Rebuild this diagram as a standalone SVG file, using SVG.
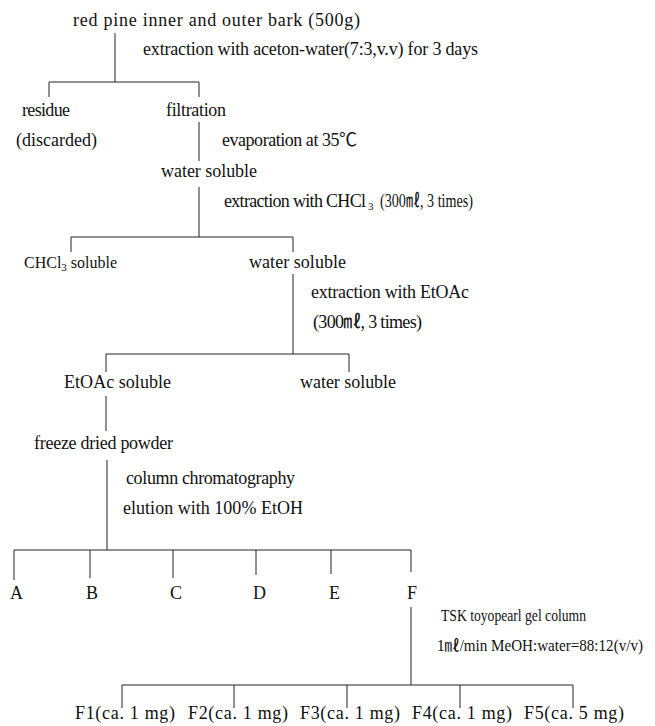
<svg xmlns="http://www.w3.org/2000/svg" width="655" height="726" viewBox="0 0 655 726">
<style>
text{font-family:"Liberation Serif","Noto Sans CJK KR",serif;font-size:18px;fill:#111}
.sub{font-size:11px}
.cond{font-size:16px}
.sm{font-size:16px}
#connectors line{stroke:#222;stroke-width:1;fill:none}
</style>
<rect width="655" height="726" fill="#fff"/>
<g id="connectors">
<line x1="115" y1="33" x2="115" y2="82"/>
<line x1="49" y1="82" x2="199" y2="82"/>
<line x1="49" y1="82" x2="49" y2="97"/>
<line x1="199" y1="82" x2="199" y2="97"/>
<line x1="199" y1="122" x2="199" y2="161"/>
<line x1="199" y1="187" x2="199" y2="237"/>
<line x1="71" y1="237" x2="293" y2="237"/>
<line x1="71" y1="237" x2="71" y2="252"/>
<line x1="293" y1="237" x2="293" y2="252"/>
<line x1="293" y1="274" x2="293" y2="354"/>
<line x1="106" y1="354" x2="349" y2="354"/>
<line x1="106" y1="354" x2="106" y2="372"/>
<line x1="349" y1="354" x2="349" y2="372"/>
<line x1="106" y1="396" x2="106" y2="431"/>
<line x1="107" y1="460" x2="107" y2="550"/>
<line x1="14" y1="550" x2="411" y2="550"/>
<line x1="14" y1="550" x2="14" y2="580"/>
<line x1="90" y1="550" x2="90" y2="578"/>
<line x1="173" y1="550" x2="173" y2="578"/>
<line x1="256" y1="550" x2="256" y2="575"/>
<line x1="331" y1="550" x2="331" y2="574"/>
<line x1="411" y1="550" x2="411" y2="572"/>
<line x1="411" y1="607" x2="411" y2="685"/>
<line x1="122" y1="685" x2="573" y2="685"/>
<line x1="122" y1="685" x2="122" y2="708"/>
<line x1="234" y1="685" x2="234" y2="708"/>
<line x1="347" y1="685" x2="347" y2="708"/>
<line x1="460" y1="685" x2="460" y2="708"/>
<line x1="573" y1="685" x2="573" y2="708"/>
</g>
<g id="n-bark"><text x="73" y="26" textLength="287" lengthAdjust="spacing">red pine inner and outer bark (500g)</text></g>
<g id="lbl-extract1"><text x="143" y="55" textLength="335" lengthAdjust="spacing">extraction with aceton-water(7:3,v.v) for 3 days</text></g>
<g id="n-residue"><text x="22" y="116" textLength="48" lengthAdjust="spacing">residue</text><text x="16" y="146" textLength="81" lengthAdjust="spacing">(discarded)</text></g>
<g id="n-filtration"><text x="166" y="116" textLength="60" lengthAdjust="spacing">filtration</text></g>
<g id="lbl-evap"><text x="222" y="146" textLength="135" lengthAdjust="spacing">evaporation at 35℃</text></g>
<g id="n-water1"><text x="161" y="177" textLength="96" lengthAdjust="spacing">water soluble</text></g>
<g id="lbl-extract2"><text x="224" y="207" textLength="142" lengthAdjust="spacing">extraction with CHCl</text><text class="sub" x="368" y="210">3</text><text x="380" y="207" textLength="93" lengthAdjust="spacingAndGlyphs">(300㎖, 3 times)</text></g>
<g id="n-chcl3"><text class="sm" x="24" y="268">CHCl<tspan class="sub" dy="3">3</tspan><tspan dy="-3"> soluble</tspan></text></g>
<g id="n-water2"><text x="249" y="268" textLength="97" lengthAdjust="spacing">water soluble</text></g>
<g id="lbl-extract3"><text x="311" y="298" textLength="158" lengthAdjust="spacing">extraction with EtOAc</text><text x="313" y="328" textLength="109" lengthAdjust="spacing">(300㎖, 3 times)</text></g>
<g id="n-etoac"><text x="64" y="388" textLength="107" lengthAdjust="spacing">EtOAc soluble</text></g>
<g id="n-water3"><text x="300" y="388" textLength="96" lengthAdjust="spacing">water soluble</text></g>
<g id="n-powder"><text x="34" y="449" textLength="139" lengthAdjust="spacing">freeze dried powder</text></g>
<g id="lbl-column"><text x="126" y="484" textLength="169" lengthAdjust="spacing">column chromatography</text><text x="123" y="514" textLength="180" lengthAdjust="spacing">elution with 100% EtOH</text></g>
<g id="n-A"><text x="10" y="599">A</text></g>
<g id="n-B"><text x="86" y="599">B</text></g>
<g id="n-C"><text x="170" y="599">C</text></g>
<g id="n-D"><text x="253" y="599">D</text></g>
<g id="n-E"><text x="329" y="599">E</text></g>
<g id="n-F"><text x="407" y="599">F</text></g>
<g id="lbl-tsk"><text class="cond" x="441" y="621" textLength="145" lengthAdjust="spacingAndGlyphs">TSK toyopearl gel column</text><text class="cond" x="437" y="651" textLength="206" lengthAdjust="spacingAndGlyphs">1㎖/min MeOH:water=88:12(v/v)</text></g>
<g id="n-F1"><text x="75" y="719" textLength="100" lengthAdjust="spacing">F1(ca. 1 mg)</text></g>
<g id="n-F2"><text x="188" y="719" textLength="100" lengthAdjust="spacing">F2(ca. 1 mg)</text></g>
<g id="n-F3"><text x="300" y="719" textLength="100" lengthAdjust="spacing">F3(ca. 1 mg)</text></g>
<g id="n-F4"><text x="412" y="719" textLength="100" lengthAdjust="spacing">F4(ca. 1 mg)</text></g>
<g id="n-F5"><text x="524" y="719" textLength="100" lengthAdjust="spacing">F5(ca. 5 mg)</text></g>
</svg>
